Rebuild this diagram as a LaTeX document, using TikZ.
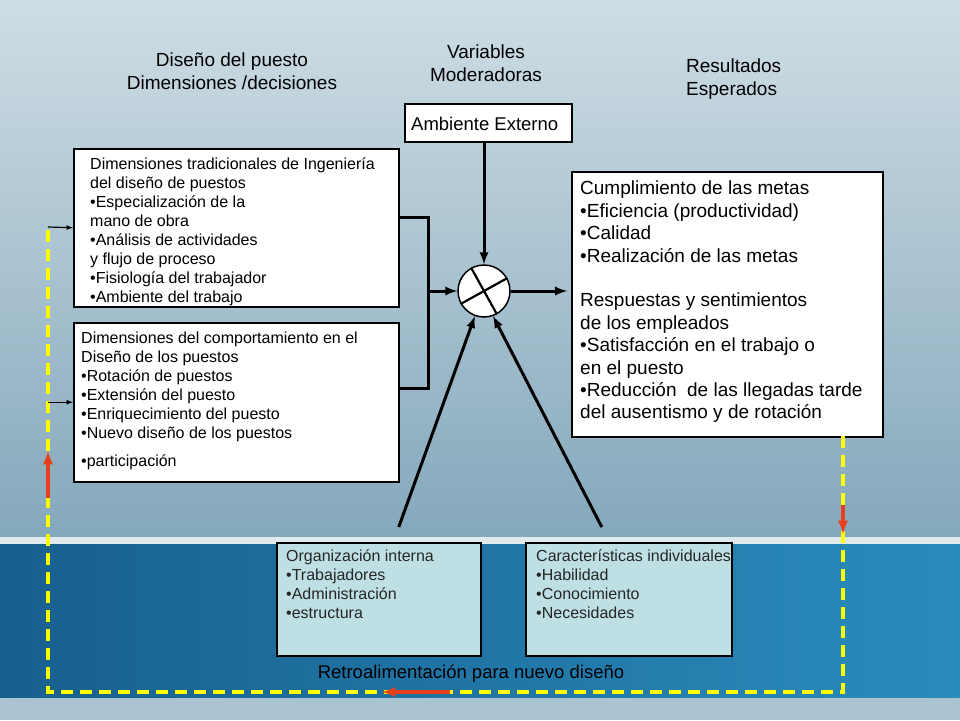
\documentclass[tikz,border=0pt]{standalone}
\usepackage{fontspec}
\setmainfont{Liberation Sans}
\usetikzlibrary{calc}

\definecolor{skytop}{HTML}{CFDDE4}
\definecolor{skybot}{HTML}{84A8BC}
\definecolor{bandl}{HTML}{175F8E}
\definecolor{bandr}{HTML}{2A8CBC}
\definecolor{strip}{HTML}{A9C4D0}
\definecolor{paleblue}{HTML}{BEE0E5}
\definecolor{fbyellow}{HTML}{FFFF00}
\definecolor{fbred}{HTML}{E8401C}

\begin{document}
\begin{tikzpicture}[x=1pt,y=-1pt,
  box/.style={draw=black,line width=1.5pt,fill=white,anchor=north west,inner sep=0pt},
  orgbox/.style={box,fill=paleblue},
  txt/.style={anchor=north west,inner sep=0pt,align=left},
  conn/.style={line width=3pt,black},
  feed/.style={line width=3.5pt,fbyellow,dash pattern=on 12pt off 7pt},
  back/.style={line width=3.5pt,fbred,-latex}]
  \useasboundingbox (0,0) rectangle (960,720);

  % background
  \shade[top color=skytop,bottom color=skybot] (0,0) rectangle (960,537);
  \fill[white!75!skybot] (0,537) rectangle (960,544);
  \shade[left color=bandl,right color=bandr] (0,544) rectangle (960,698);
  \fill[strip] (0,698) rectangle (960,720);

  % headings
  \node[align=center,font=\fontsize{19}{23}\selectfont] (hdesign) at (232,71) {Diseño del puesto\\Dimensiones /decisiones};
  \node[align=center,font=\fontsize{19}{23}\selectfont] (hmod) at (486,63) {Variables\\Moderadoras};
  \node[align=left,anchor=west,inner sep=0pt,font=\fontsize{19}{23}\selectfont] (hres) at (686,79) {Resultados\\Esperados};

  % boxes
  \node[box,minimum width=325,minimum height=158] (trad) at (73,148) {};
  \node[txt,font=\fontsize{16}{19}\selectfont] at (90,158) {Dimensiones tradicionales de Ingeniería\\del diseño de puestos\\•Especialización de la\\mano de obra\\•Análisis de actividades\\y flujo de proceso\\•Fisiología del trabajador\\•Ambiente del trabajo};

  \node[box,minimum width=325,minimum height=159] (behav) at (73,322) {};
  \node[txt,font=\fontsize{16}{19}\selectfont] at (81,332) {Dimensiones del comportamiento en el\\Diseño de los puestos\\•Rotación de puestos\\•Extensión del puesto\\•Enriquecimiento del puesto\\•Nuevo diseño de los puestos\\[9pt]•participación};

  \node[box,minimum width=167,minimum height=38] (amb) at (404,103) {};
  \node[txt,font=\fontsize{18.5}{20}\selectfont] at (411,117) {Ambiente Externo};

  \node[box,minimum width=311,minimum height=265] (res) at (571,171) {};
  \node[txt,font=\fontsize{19}{22.4}\selectfont] at (580,181) {Cumplimiento de las metas\\•Eficiencia (productividad)\\•Calidad\\•Realización de las metas\\[22.4pt]Respuestas y sentimientos\\de los empleados\\•Satisfacción en el trabajo o\\en el puesto\\•Reducción\ \ de las llegadas tarde\\del ausentismo y de rotación};

  \node[orgbox,minimum width=204,minimum height=113] (org) at (276,542) {};
  \node[txt,text=black!85,font=\fontsize{16}{19}\selectfont] at (286,550) {Organización interna\\•Trabajadores\\•Administración\\•estructura};

  \node[orgbox,minimum width=206,minimum height=113] (indiv) at (525,542) {};
  \node[txt,text=black!85,font=\fontsize{16}{19}\selectfont] at (536,550) {Características individuales\\•Habilidad\\•Conocimiento\\•Necesidades};

  % mixing circle
  \node[circle,draw,fill=white,line width=1.5pt,minimum size=52,inner sep=0pt] (mix) at (484,291) {};
  \draw[line width=2.2pt] (mix.119) -- (mix.-61);
  \draw[line width=2.2pt] (mix.29) -- (mix.209);

  % connectors
  \coordinate (jtop) at (428,217);
  \coordinate (jbot) at (428,388);
  \draw[conn] (trad.east |- jtop) -- (jtop) -- (jbot) -- (behav.east |- jbot);
  \draw[conn,-latex] (jtop |- mix.west) -- (mix.west);
  \draw[conn,-latex] (mix.north |- amb.south) -- (mix.north);
  \draw[conn,-latex,shorten >=4pt] (mix.east) -- (res.west |- mix.east);
  \coordinate (orgtop) at ($(org.north)+(20,-15)$);
  \coordinate (inditop) at ($(indiv.north)+(-27,-15)$);
  \draw[conn,-latex] (orgtop) -- (mix.250);
  \draw[conn,-latex] (inditop) -- (mix.290);

  % feedback loop
  \coordinate (fbR) at (843,436);
  \coordinate (fbRB) at (843,692);
  \coordinate (fbLB) at (48,692);
  \coordinate (fbL) at (48,227);
  \draw[feed] (fbR) -- (fbRB) -- (fbLB) -- (fbL);
  \draw[-latex,line width=1.2pt] (fbL) -- (trad.west);
  \draw[-latex,line width=1.2pt] (behav.west -| fbL) -- (behav.west);
  \draw[back] (843,505) -- (843,534);
  \draw[back] (450,692) -- (382,692);
  \draw[back] (48,498) -- (48,451);
  \node[font=\fontsize{18.5}{20}\selectfont] (retro) at (471,674) {Retroalimentación para nuevo diseño};
\end{tikzpicture}
\end{document}
